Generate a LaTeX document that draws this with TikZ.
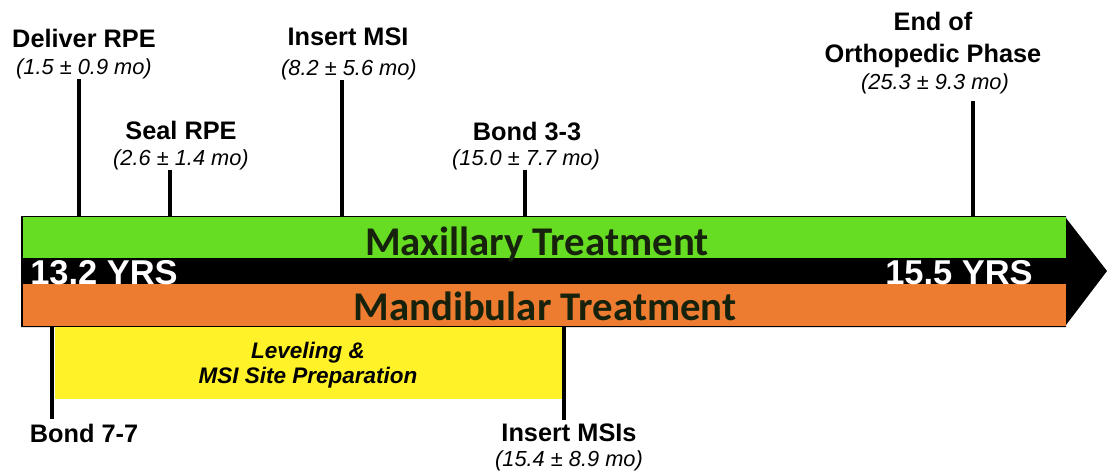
\documentclass[tikz,border=0pt]{standalone}
\usepackage{fontspec}
\setmainfont{Liberation Sans}
\newfontfamily\bandfont{Carlito}

\definecolor{maxgreen}{RGB}{102,220,34}
\definecolor{mandorange}{RGB}{238,124,48}
\definecolor{prepyellow}{RGB}{255,242,40}
\definecolor{bandtext}{RGB}{22,34,12}

\begin{document}
\begin{tikzpicture}[
    x=0.025cm, y=-0.025cm,
    event/.style={inner sep=0pt,font=\fontsize{18}{21}\selectfont\bfseries},
    stat/.style={inner sep=0pt,font=\fontsize{15.5}{18}\selectfont\itshape},
    prep/.style={inner sep=0pt,font=\fontsize{16}{19}\selectfont\bfseries\itshape},
    band/.style={inner sep=0pt,anchor=base,text=bandtext,font=\bandfont\fontsize{29}{32}\selectfont\bfseries},
    age/.style={inner sep=0pt,text=white,font=\fontsize{24.5}{27}\selectfont\bfseries},
    tick/.style={draw=black,line width=2.2pt},
]
\useasboundingbox (0,0) rectangle (1107,475);

%%%
% Timeline arrow and treatment bars
\fill[black] (21,216) -- (1066,216) -- (1066,218) -- (1107,271)
    -- (1066,325) -- (1066,327) -- (21,327) -- cycle;
\fill[maxgreen] (23,217) rectangle (1066,258);
\fill[mandorange] (23,284) rectangle (1066,326);
\fill[prepyellow] (55,327) rectangle (563,399);

\node[band] (maxT) at (537,255) {Maxillary Treatment};
\node[band] (manT) at (545,320) {Mandibular Treatment};
\node[age,anchor=west] (ageStart) at (30,273) {13.2 YRS};
\node[age,anchor=east] (ageEnd) at (1033,273) {15.5 YRS};

%%%
% Maxillary events (above the bar)
\coordinate (tDeliver) at (79,217);
\coordinate (tSeal) at (170,217);
\coordinate (tInsert) at (342,217);
\coordinate (tBond33) at (525,217);
\coordinate (tOrtho) at (973,217);

\node[event] (deliver) at (84,38) {Deliver RPE};
\node[stat] (deliverT) at (84,69) {(1.5 ± 0.9 mo)};
\node[event] (seal) at (181,130) {Seal RPE};
\node[stat] (sealT) at (181,160) {(2.6 ± 1.4 mo)};
\node[event] (insert) at (348,37) {Insert MSI};
\node[stat] (insertT) at (349,70) {(8.2 ± 5.6 mo)};
\node[event] (bond33) at (527,131) {Bond 3-3};
\node[stat] (bond33T) at (526,160) {(15.0 ± 7.7 mo)};
\node[event] (orthoA) at (933,21) {End of};
\node[event] (orthoB) at (933,56) {Orthopedic Phase};
\node[stat] (orthoT) at (935,84) {(25.3 ± 9.3 mo)};

\draw[tick] (tDeliver |- deliverT.south) -- (tDeliver);
\draw[tick] (tSeal |- sealT.south) -- (tSeal);
\draw[tick] (tInsert |- insertT.south) -- (tInsert);
\draw[tick] (tBond33 |- bond33T.south) -- (tBond33);
\draw[tick,shorten <=5pt] (tOrtho |- orthoT.south) -- (tOrtho);

%%%
% Mandibular events (below the bar)
\coordinate (bBond77) at (52,327);
\coordinate (bInsert) at (564,327);

\node[prep] (level) at (308,353) {Leveling \&};
\node[prep] (site) at (308,378) {MSI Site Preparation};

\node[event] (bond77) at (84,433) {Bond 7-7};
\node[event] (inserts) at (569,433) {Insert MSIs};
\node[stat] (insertsT) at (569,461) {(15.4 ± 8.9 mo)};

\draw[tick,shorten >=3pt] (bBond77) -- (bBond77 |- bond77.north);
\draw[tick,shorten >=3pt] (bInsert) -- (bInsert |- inserts.north);
\end{tikzpicture}
\end{document}
